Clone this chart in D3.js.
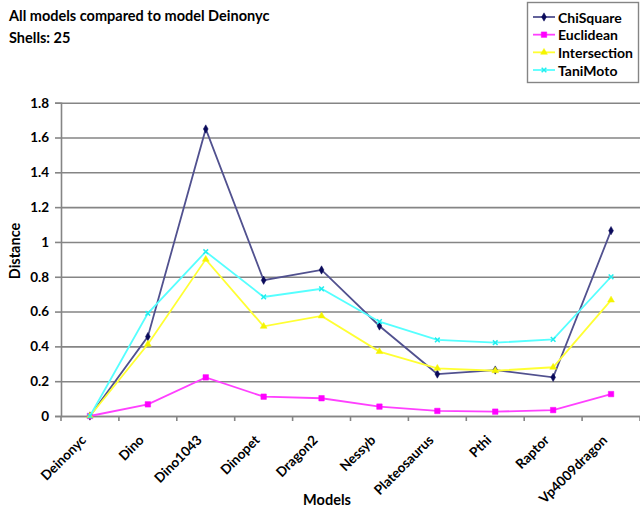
<!DOCTYPE html>
<html>
<head>
<meta charset="utf-8">
<script src="https://cdn.jsdelivr.net/npm/d3@7"></script>
<style>
  html, body { margin: 0; padding: 0; background: #fff; }
  svg { display: block; }
  text { font-family: Lato, "Open Sans", sans-serif; font-weight: bold; fill: #000; }
</style>
</head>
<body>
<svg id="chart" width="640" height="509"></svg>
<script>
// Distances of every model to model Deinonyc, per similarity measure
const categories = ["Deinonyc", "Dino", "Dino1043", "Dinopet", "Dragon2", "Nessyb",
                    "Plateosaurus", "Pthi", "Raptor", "Vp4009dragon"];
const chiSquare    = [0, 0.456, 1.649, 0.78, 0.839, 0.517, 0.241, 0.264, 0.222, 1.065];
const euclidean    = [0, 0.067, 0.222, 0.111, 0.102, 0.054, 0.029, 0.025, 0.034, 0.126];
const intersection = [0, 0.412, 0.90, 0.515, 0.575, 0.37, 0.274, 0.26, 0.28, 0.666];
const taniMoto     = [0, 0.59, 0.944, 0.684, 0.731, 0.542, 0.437, 0.421, 0.44, 0.80];
const yTicks = [0, 0.2, 0.4, 0.6, 0.8, 1, 1.2, 1.4, 1.6, 1.8];
const seriesNames = ["ChiSquare", "Euclidean", "Intersection", "TaniMoto"];

const series = [
  { name: seriesNames[0], values: chiSquare,    line: "#51518f", fill: "#0a0a5a", shape: "diamond" },
  { name: seriesNames[1], values: euclidean,    line: "#ff40ff", fill: "#ff00ff", shape: "square" },
  { name: seriesNames[2], values: intersection, line: "#ffff33", fill: "#f4f400", shape: "triangle" },
  { name: seriesNames[3], values: taniMoto,     line: "#55ffff", fill: "#22eeee", shape: "cross" }
];

const svg = d3.select("#chart");
const plotLeft = 61, plotRight = 640, plotTop = 102.7, plotBottom = 416;

const x = d3.scaleBand().domain(categories).range([plotLeft, plotRight]);
const y = d3.scaleLinear().domain([0, 1.8]).range([plotBottom, plotTop]);
const cx = c => x(c) + x.bandwidth() / 2;

// Titles
svg.append("text").attr("x", 9).attr("y", 21).style("font-size", "14.5px")
  .text("All models compared to model Deinonyc");
svg.append("text").attr("x", 9).attr("y", 43).style("font-size", "14.5px")
  .text("Shells: 25");

// Horizontal gridlines
svg.append("g")
  .attr("transform", `translate(${plotLeft},0)`)
  .call(d3.axisLeft(y).tickValues(yTicks).tickSize(-(plotRight - plotLeft)).tickFormat(""))
  .call(g => g.select(".domain").remove())
  .call(g => g.selectAll("line").attr("stroke", "#858585").attr("stroke-width", 1.6));

// Y axis
svg.append("g")
  .attr("transform", `translate(${plotLeft},0)`)
  .call(d3.axisLeft(y).tickValues(yTicks).tickSize(6).tickPadding(6)
          .tickFormat(d => String(+d.toFixed(1))))
  .call(g => g.select(".domain").attr("stroke", "#858585").attr("stroke-width", 1.6))
  .call(g => g.selectAll("line").attr("stroke", "#858585").attr("stroke-width", 1.6))
  .call(g => g.selectAll("text").style("font-size", "13.5px").style("font-family", "Lato, sans-serif")
                .style("font-weight", "bold").attr("fill", "#000"));

// X axis: baseline, ticks between categories, rotated labels
const xg = svg.append("g").attr("transform", `translate(0,${plotBottom})`);
xg.call(d3.axisBottom(x).tickSize(0).tickFormat(""))
  .call(g => g.select(".domain").attr("stroke", "#858585").attr("stroke-width", 1.6));
xg.selectAll("line.sep")
  .data(categories.map(c => x(c)).concat([x(categories[categories.length - 1]) + x.bandwidth()]))
  .join("line").attr("class", "sep")
  .attr("x1", d => d).attr("x2", d => d).attr("y1", 0).attr("y2", 5)
  .attr("stroke", "#858585").attr("stroke-width", 1.6);
xg.selectAll("text.cat")
  .data(categories)
  .join("text").attr("class", "cat")
  .attr("text-anchor", "end")
  .attr("transform", c => `translate(${cx(c) - 3},${25}) rotate(-45)`)
  .style("font-size", "13.5px")
  .text(c => c);

// Axis titles
svg.append("text").attr("x", 327).attr("y", 505).attr("text-anchor", "middle")
  .style("font-size", "14.5px").text("Models");
svg.append("text").attr("transform", "translate(20,251) rotate(-90)").attr("text-anchor", "middle")
  .style("font-size", "14.5px").text("Distance");

// Marker symbols
const symbolFor = {
  diamond: d3.symbol().type(d3.symbolDiamond).size(20),
  square: d3.symbol().type(d3.symbolSquare).size(30),
  triangle: d3.symbol().type(d3.symbolTriangle).size(20),
  cross: d3.symbol().type(d3.symbolTimes).size(16)
};

const line = d3.line().x((d, i) => cx(categories[i])).y(d => y(d));

series.forEach(s => {
  const g = svg.append("g");
  g.append("path").datum(s.values)
    .attr("d", line).attr("fill", "none")
    .attr("stroke", s.line).attr("stroke-width", 1.8);
  g.selectAll("path.m").data(s.values).join("path").attr("class", "m")
    .attr("transform", (d, i) => `translate(${cx(categories[i])},${y(d)})`)
    .attr("d", symbolFor[s.shape]())
    .attr("fill", s.shape === "cross" ? "none" : s.fill)
    .attr("stroke", s.fill)
    .attr("stroke-width", s.shape === "cross" ? 1.5 : 0.5);
});

// Legend
const lg = svg.append("g");
lg.append("rect").attr("x", 527.5).attr("y", 2.5).attr("width", 111).attr("height", 80)
  .attr("fill", "#fff").attr("stroke", "#858585").attr("stroke-width", 1.4);
const legendY = d3.scalePoint().domain(seriesNames).range([17, 70]);
series.forEach(s => {
  const yy = legendY(s.name);
  lg.append("line").attr("x1", 533).attr("x2", 555).attr("y1", yy).attr("y2", yy)
    .attr("stroke", s.line).attr("stroke-width", 1.8);
  lg.append("path").attr("transform", `translate(544,${yy})`).attr("d", symbolFor[s.shape]())
    .attr("fill", s.shape === "cross" ? "none" : s.fill).attr("stroke", s.fill)
    .attr("stroke-width", s.shape === "cross" ? 1.5 : 0.5);
  lg.append("text").attr("x", 558).attr("y", yy + 5.5).style("font-size", "14px").text(s.name);
});
</script>
</body>
</html>
